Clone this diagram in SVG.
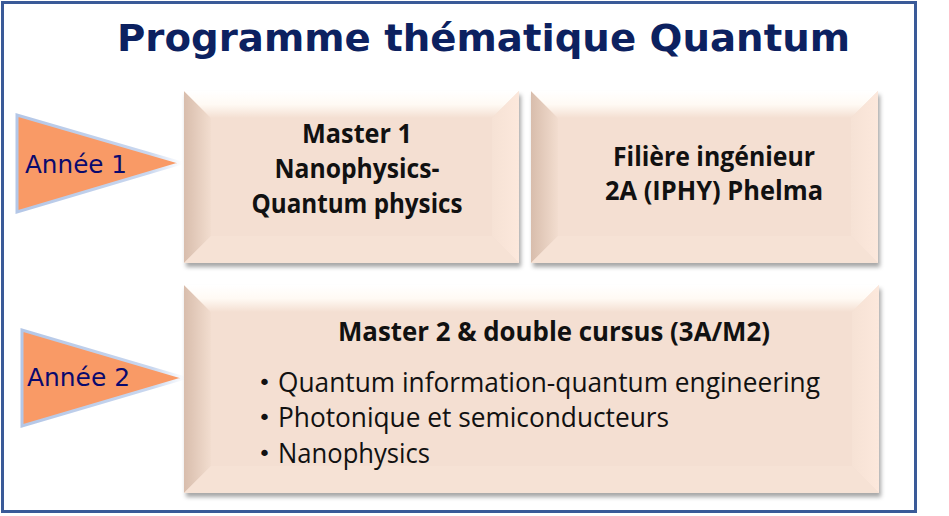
<svg xmlns="http://www.w3.org/2000/svg" width="949" height="516" viewBox="0 0 949 516">
<defs>
<linearGradient id="gLeft" x1="0" y1="0" x2="1" y2="0">
<stop offset="0" stop-color="#D8BDAC"/><stop offset="1" stop-color="#F2DDCF"/>
</linearGradient>
<linearGradient id="gTop" x1="0" y1="0" x2="0" y2="1">
<stop offset="0" stop-color="#FFFFFF"/><stop offset="0.5" stop-color="#FFFAF4"/><stop offset="1" stop-color="#F4DFD2"/>
</linearGradient>
<linearGradient id="gRight" x1="0" y1="0" x2="1" y2="0">
<stop offset="0" stop-color="#F6E2D5"/><stop offset="1" stop-color="#FCE8DC"/>
</linearGradient>
<linearGradient id="gTri" x1="0" y1="0" x2="1" y2="0">
<stop offset="0" stop-color="#B4C7E7"/><stop offset="0.8" stop-color="#C9D7EF"/><stop offset="1" stop-color="#FFFFFF"/>
</linearGradient>
<filter id="sh" x="-5%" y="-5%" width="112%" height="115%">
<feDropShadow dx="2" dy="4" stdDeviation="2" flood-color="#000" flood-opacity="0.35"/>
</filter>
</defs>
<style>
.center{fill:#F4DFD2}
.bl{fill:url(#gLeft)}
.bt{fill:url(#gTop)}
.br{fill:url(#gRight)}
.bb{fill:#F6E2D5}
.tri{fill:#F99A66;stroke:url(#gTri);stroke-width:3;stroke-linejoin:miter}
.yr{font-family:"DejaVu Sans",sans-serif;font-size:25px;fill:#0A0A6E}
.hd{font-family:"Open Sans","Liberation Sans",sans-serif;font-weight:bold;font-size:26px;fill:#111}
.it{font-family:"Open Sans","Liberation Sans",sans-serif;font-size:27px;fill:#111}
.bu{font-family:"DejaVu Sans",sans-serif;font-size:22px;fill:#111}
.title{font-family:"DejaVu Sans",sans-serif;font-weight:bold;font-size:38px;fill:#0C2160}
</style>
<rect x="2.5" y="2.5" width="913" height="509" fill="#FFFFFF" stroke="#3A5A98" stroke-width="3"/>
<text class="title" x="117" y="51" textLength="733" lengthAdjust="spacingAndGlyphs">Programme thématique Quantum</text>

<g id="annee1">
<polygon class="tri" points="17,115 17,212 182,163"/>
<text class="yr" x="25" y="173" textLength="102" lengthAdjust="spacingAndGlyphs">Année 1</text>
</g>
<g id="annee2">
<polygon class="tri" points="22,330 22,426 185,378"/>
<text class="yr" x="27" y="386" textLength="103" lengthAdjust="spacingAndGlyphs">Année 2</text>
</g>

<g id="master1">
<g filter="url(#sh)">
<rect class="center" x="184" y="91" width="335" height="172"/>
<polygon class="bl" points="184,91 211,118 211,236 184,263"/>
<polygon class="bt" points="184,91 519,91 492,118 211,118"/>
<polygon class="br" points="519,91 519,263 492,236 492,118"/>
<polygon class="bb" points="184,263 519,263 492,236 211,236"/>
</g>
<text class="hd" x="357" y="143" text-anchor="middle" textLength="110" lengthAdjust="spacingAndGlyphs">Master 1</text>
<text class="hd" x="357" y="178" text-anchor="middle" textLength="165" lengthAdjust="spacingAndGlyphs">Nanophysics-</text>
<text class="hd" x="357" y="213" text-anchor="middle" textLength="211" lengthAdjust="spacingAndGlyphs">Quantum physics</text>
</g>

<g id="filiere">
<g filter="url(#sh)">
<rect class="center" x="531" y="91" width="347" height="172"/>
<polygon class="bl" points="531,91 558,118 558,236 531,263"/>
<polygon class="bt" points="531,91 878,91 851,118 558,118"/>
<polygon class="br" points="878,91 878,263 851,236 851,118"/>
<polygon class="bb" points="531,263 878,263 851,236 558,236"/>
</g>
<text class="hd" x="714" y="166" text-anchor="middle" textLength="202" lengthAdjust="spacingAndGlyphs">Filière ingénieur</text>
<text class="hd" x="714" y="200" text-anchor="middle" textLength="218" lengthAdjust="spacingAndGlyphs">2A (IPHY) Phelma</text>
</g>

<g id="master2">
<g filter="url(#sh)">
<rect class="center" x="184" y="285" width="695" height="208"/>
<polygon class="bl" points="184,285 211,312 211,466 184,493"/>
<polygon class="bt" points="184,285 879,285 852,312 211,312"/>
<polygon class="br" points="879,285 879,493 852,466 852,312"/>
<polygon class="bb" points="184,493 879,493 852,466 211,466"/>
</g>
<text class="hd" x="554" y="341" text-anchor="middle" textLength="432" lengthAdjust="spacingAndGlyphs">Master 2 &amp; double cursus (3A/M2)</text>
<text class="bu" x="258" y="390">•</text>
<text class="it" x="278" y="392" textLength="542" lengthAdjust="spacingAndGlyphs">Quantum information-quantum engineering</text>
<text class="bu" x="258" y="425">•</text>
<text class="it" x="278" y="427" textLength="391" lengthAdjust="spacingAndGlyphs">Photonique et semiconducteurs</text>
<text class="bu" x="258" y="461">•</text>
<text class="it" x="278" y="463" textLength="152" lengthAdjust="spacingAndGlyphs">Nanophysics</text>
</g>
<g id="connectors"></g>
</svg>
